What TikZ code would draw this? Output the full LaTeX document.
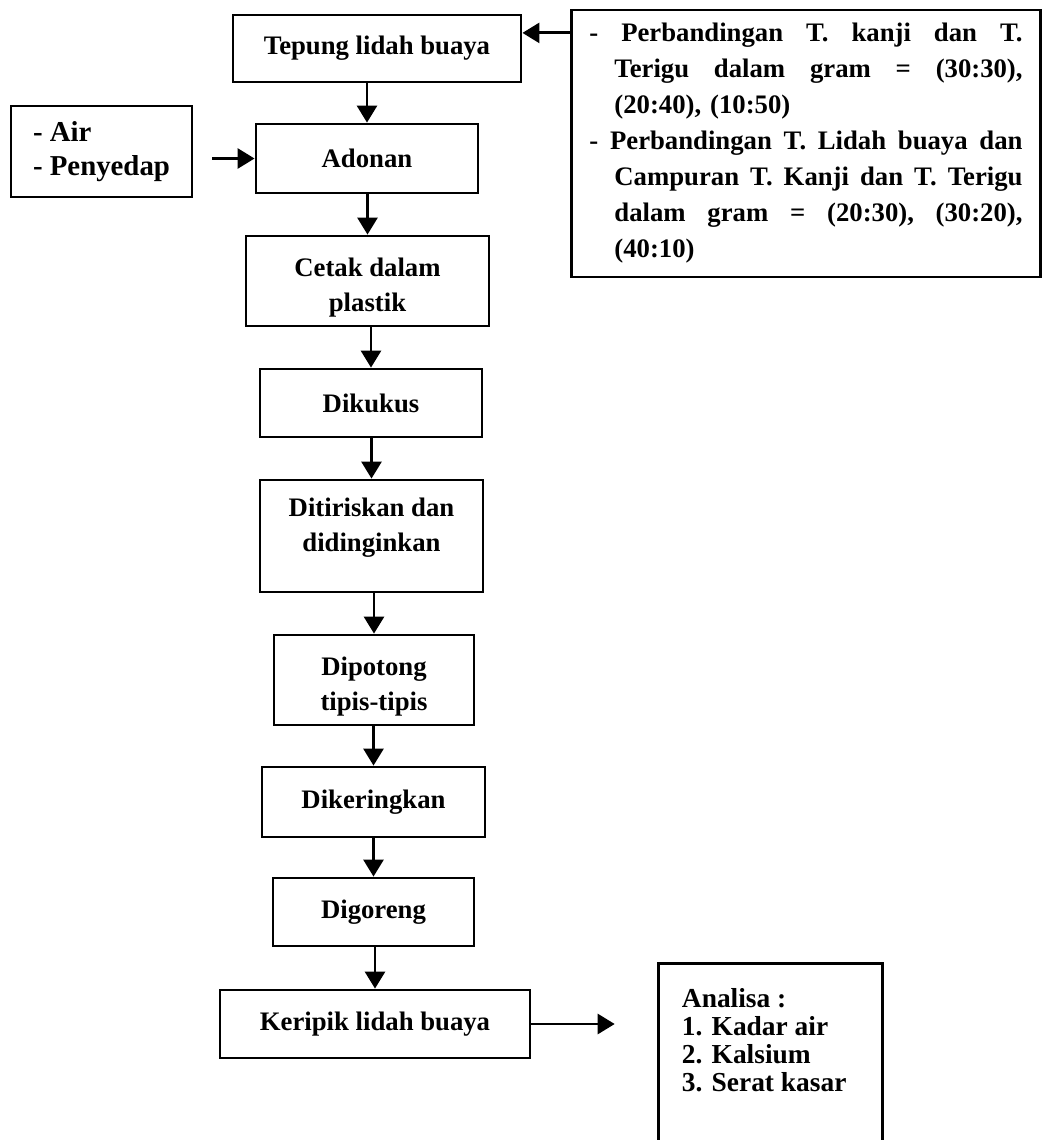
\documentclass[tikz,border=0pt]{standalone}
\usepackage{fontspec}
\setmainfont{Liberation Serif}
\usetikzlibrary{arrows.meta}

\begin{document}
\begin{tikzpicture}[x=0.025cm, y=-0.025cm,
    boxtext/.style={align=center, font=\fontsize{19}{25}\selectfont\bfseries},
    procbox/.style={boxtext, draw, line width=2pt, inner sep=2pt},
    flowarrow/.style={line width=2pt, -{Triangle[length=0.425cm, width=0.5cm]}}]
    \useasboundingbox (0,0) rectangle (1042,1140);

    % Process steps
    \node[procbox, minimum width=7.2cm, minimum height=1.675cm] (tepung) at (377,48.5) {Tepung lidah buaya};
    \node[procbox, minimum width=5.55cm, minimum height=1.725cm] (adonan) at (367,158.5) {Adonan};
    \node[procbox, minimum width=6.075cm, minimum height=2.25cm] (cetak) at (367.5,281) {\rule{0pt}{0.8cm}Cetak dalam\\plastik};
    \node[procbox, minimum width=5.55cm, minimum height=1.7cm] (dikukus) at (371,403) {Dikukus};
    \node[procbox, minimum width=5.575cm, minimum height=2.8cm] (ditiris) at (371.5,536) {};
    \node[boxtext] (ditiris text) at ([yshift=0.2cm]ditiris.center) {Ditiriskan dan\\didinginkan};
    \node[procbox, minimum width=5cm, minimum height=2.25cm] (dipotong) at (374,680) {\rule{0pt}{0.8cm}Dipotong\\tipis-tipis};
    \node[procbox, minimum width=5.575cm, minimum height=1.75cm] (dikering) at (373.5,802) {Dikeringkan};
    \node[procbox, minimum width=5.025cm, minimum height=1.7cm] (digoreng) at (373.5,912) {Digoreng};
    \node[procbox, minimum width=7.75cm, minimum height=1.7cm] (keripik) at (375,1024) {Keripik lidah buaya};

    % Side inputs
    \node[procbox, align=left, font=\fontsize{20.5}{24}\selectfont\bfseries,
        minimum width=4.525cm, minimum height=2.275cm] (air) at (101.5,151.5) {- Air\\- Penyedap};
    \node[procbox, align=left, text width=10.825cm, inner xsep=0.45cm,
        font=\fontsize{19}{25.6}\selectfont\bfseries,
        minimum height=6.675cm] (params) at (806,143.5) {%
        \makebox[10.825cm][l]{-\hfill Perbandingan\hfill T.\hfill kanji\hfill dan\hfill T.}\\
        \hspace*{0.625cm}\makebox[10.2cm][l]{Terigu\hfill dalam\hfill gram\hfill =\hfill (30:30),}\\
        \hspace*{0.625cm}(20:40), (10:50)\\
        \makebox[10.825cm][l]{-\hfill Perbandingan\hfill T.\hfill Lidah\hfill buaya\hfill dan}\\
        \hspace*{0.625cm}\makebox[10.2cm][l]{Campuran\hfill T.\hfill Kanji\hfill dan\hfill T.\hfill Terigu}\\
        \hspace*{0.625cm}\makebox[10.2cm][l]{dalam\hfill gram\hfill =\hfill (20:30),\hfill (30:20),}\\
        \hspace*{0.625cm}(40:10)};

    % Analysis box, open at the bottom
    \node[minimum width=5.575cm, minimum height=4.4cm] (analisabox) at (770.5,1052) {};
    \draw[line width=2pt] (analisabox.south west) -- (analisabox.north west)
        -- (analisabox.north east) -- (analisabox.south east);
    \node[align=left, inner sep=0pt, anchor=north west, font=\fontsize{19.5}{20}\selectfont\bfseries]
        (analisa) at ([xshift=0.575cm, yshift=-0.6cm]analisabox.north west)
        {Analisa :\\1. Kadar air\\2. Kalsium\\3. Serat kasar};

    % Arrows down the main line
    \draw[flowarrow] (adonan.north |- tepung.south) -- (adonan.north);
    \draw[flowarrow] (cetak.north |- adonan.south) -- (cetak.north);
    \draw[flowarrow] (dikukus.north |- cetak.south) -- (dikukus.north);
    \draw[flowarrow] (ditiris.north |- dikukus.south) -- (ditiris.north);
    \draw[flowarrow] (dipotong.north |- ditiris.south) -- (dipotong.north);
    \draw[flowarrow] (dikering.north |- dipotong.south) -- (dikering.north);
    \draw[flowarrow] (digoreng.north |- dikering.south) -- (digoreng.north);
    \draw[flowarrow] (keripik.north |- digoreng.south) -- (keripik.north);

    % Side arrows
    \coordinate (tepung in) at ([yshift=0.39cm]tepung.east);
    \draw[flowarrow] (params.west |- tepung in) -- (tepung in);
    \draw[flowarrow, shorten <=0.475cm] (air.east |- adonan.west) -- (adonan.west);
    \draw[flowarrow, shorten >=1.1cm] (keripik.east) -- (keripik.east -| analisabox.west);
\end{tikzpicture}
\end{document}
